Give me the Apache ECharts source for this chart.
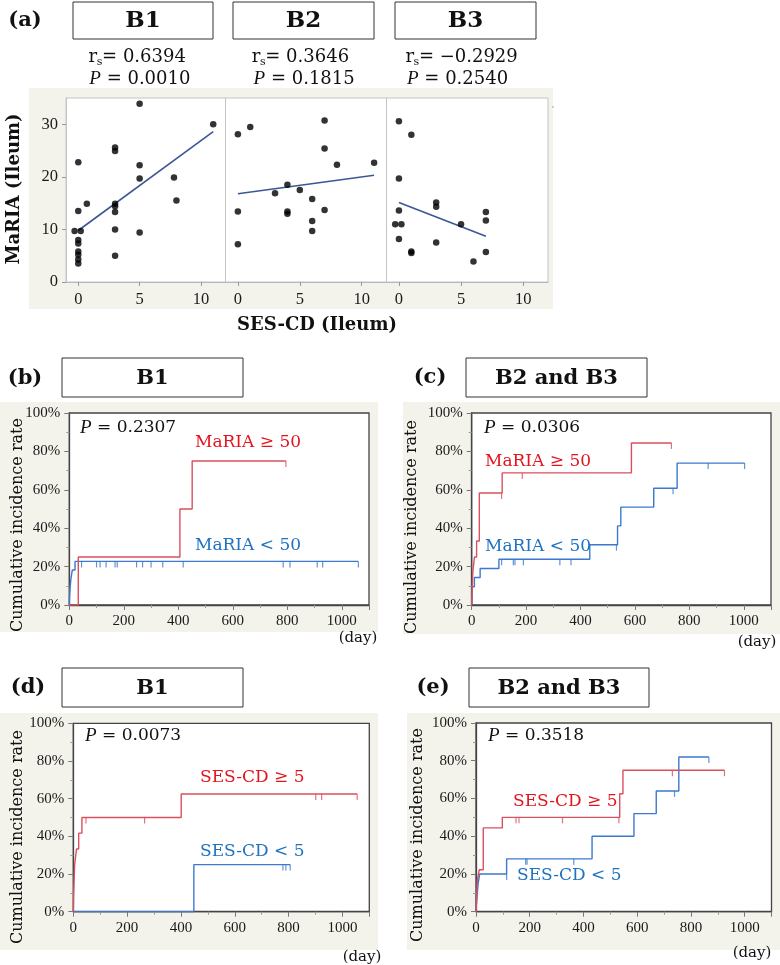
<!DOCTYPE html>
<html><head><meta charset="utf-8">
<script src="https://cdn.jsdelivr.net/npm/echarts@6/dist/echarts.min.js"></script>
<style>html,body{margin:0;padding:0;background:#fff}#c{width:780px;height:965px}</style>
</head><body><div id="c"></div>
<script>
// ---------- DATA ----------
// (a) scatter: [SES-CD (Ileum), MaRIA (Ileum)]
const sesTicks = [0, 5, 10];
const mariaTicks = [0, 10, 20, 30];
const b1Points = [[5,33.9],[11,30.0],[0,22.8],[3,25.6],[3,24.9],[5,22.2],[5,19.7],[7.8,19.9],[8,15.5],[0.7,14.9],[0,13.5],[3,14.9],[3,14.4],[3,13.3],[3,10.0],[3,5.0],[5,9.4],[-0.3,9.7],[0.2,9.7],[0,8.0],[0,7.3],[0,5.8],[0,5.2],[0,4.3],[0,3.5]];
const b2Points = [[0,28.1],[1,29.5],[7,30.7],[7,25.4],[8,22.3],[11,22.7],[4,18.5],[3,16.9],[5,17.5],[6,15.8],[0,13.4],[4,13.4],[4,13.0],[7,13.7],[6,11.6],[6,9.7],[0,7.2]];
const b3Points = [[0,30.6],[1,28.0],[0,19.7],[3,15.1],[3,14.3],[0,13.6],[-0.3,11.0],[0.2,11.0],[0,8.2],[3,7.5],[1,5.8],[1,5.5],[5,11.0],[7,13.3],[7,11.7],[7,5.7],[6,3.9]];
const b1Fit = [[0,9.8],[11,28.6]];
const b2Fit = [[0,16.8],[11,20.3]];
const b3Fit = [[0,15.1],[7,8.7]];
const panelHeaders = ['B1','B2','B3'];
const rsValues = ['= 0.6394','= 0.3646','= \u22120.2929'];
const pScatter = ['0.0010','0.1815','0.2540'];

// (b)-(e) cumulative incidence: [day, %]
const redB = [[0,0],[33,25],[406,50],[451,75],[795,75]];
const blueB = [[0,0],[1,4.5],[3,9.1],[6,13.6],[11,18.2],[21,22.7],[1061,22.7]];
const censorRedB = [[795,75]];
const censorBlueB = [[45,22.7],[100,22.7],[113,22.7],[135,22.7],[168,22.7],[176,22.7],[247,22.7],[269,22.7],[300,22.7],[343,22.7],[418,22.7],[785,22.7],[810,22.7],[910,22.7],[930,22.7],[1061,22.7]];

const redC = [[0,0],[2,8.3],[4,16.7],[10,25],[18,33.3],[28,58.3],[112,68.8],[587,84.4],[734,84.4]];
const blueC = [[0,0],[1,4.8],[2,9.5],[10,14.3],[31,19.0],[100,23.8],[434,31.4],[536,41.2],[548,51.0],[669,60.8],[755,73.9],[1003,73.9]];
const censorRedC = [[110,58.3],[186,68.8],[734,84.4]];
const censorBlueC = [[110,23.8],[153,23.8],[159,23.8],[190,23.8],[324,23.8],[365,23.8],[532,31.4],[740,60.8],[869,73.9],[1003,73.9]];

const redD = [[0,0],[1,8.3],[3,16.7],[5,25],[12,33.3],[20,41.7],[32,50],[401,62.5],[1055,62.5]];
const blueD = [[0,0],[448,25],[806,25]];
const censorRedD = [[47,50],[265,50],[901,62.5],[923,62.5],[1055,62.5]];
const censorBlueD = [[779,25],[790,25],[806,25]];

const redE = [[0,0],[2,5.6],[3,11.1],[5,16.7],[12,22.2],[27,44.4],[98,50],[535,62.5],[547,75],[925,75]];
const blueE = [[0,0],[2,5],[5,10],[8,15],[14,20],[114,28],[432,40],[588,52],[671,64],[755,82],[867,82]];
const censorRedE = [[149,50],[160,50],[322,50],[532,50],[731,75],[925,75]];
const censorBlueE = [[114,20],[185,28],[190,28],[364,28],[739,64],[867,82]];

const pKM = ['0.2307','0.0306','0.0073','0.3518'];

// ---------- CHART ----------
const chart = echarts.init(document.getElementById('c'));
const SERIF = '"DejaVu Serif", serif';
const NUM = '"Liberation Serif", serif';
const BEIGE = '#f3f3ec';
const RED_LINE = '#d9505f', RED_TXT = '#e3141e', BLUE_LINE = '#3c78cf', BLUE_TXT = '#1f72c0';

const grids = [
  {left:66, top:98, width:159.5, height:184},
  {left:225.5, top:98, width:161, height:184},
  {left:386.5, top:98, width:161.5, height:184},
  {left:69.3, top:413, width:299.7, height:192},
  {left:471.7, top:413, width:299.3, height:192},
  {left:73.3, top:723.3, width:296, height:188.4},
  {left:476, top:723, width:295.5, height:188.7}
].map((g,i)=>Object.assign(g,{show:true, backgroundColor:'#fff',
   borderColor: i<3 ? '#c4c4c4' : '#444', borderWidth: i<3 ? 1 : 1.3}));

function scatterX(i){
  return {type:'value', gridIndex:i, min:-1, max:12,
    axisLine:{show:true,onZero:false,lineStyle:{color:'#b8b8b8'}},
    axisTick:{show:true,length:4,customValues:sesTicks,lineStyle:{color:'#999'}},
    axisLabel:{customValues:sesTicks,fontFamily:NUM,fontSize:16.5,color:'#1a1a1a',margin:9},
    splitLine:{show:false}};
}
function scatterY(i, show){
  return {type:'value', gridIndex:i, min:0, max:35,
    axisLine:{show:true,onZero:false,lineStyle:{color:'#c4c4c4'}},
    axisTick:{show:show,length:4,customValues:mariaTicks,lineStyle:{color:'#999'}},
    axisLabel:{show:show,customValues:mariaTicks,fontFamily:NUM,fontSize:16.5,color:'#1a1a1a',margin:8},
    splitLine:{show:false}};
}
function kmX(i){
  return {type:'value', gridIndex:i, min:0, max:1100, interval:200,
    axisLine:{show:true,onZero:false,lineStyle:{color:'#444',width:1.3}},
    axisTick:{show:true,length:5,lineStyle:{color:'#777'}},
    minorTick:{show:true,splitNumber:2,length:3,lineStyle:{color:'#999'}},
    axisLabel:{fontFamily:NUM,fontSize:15,color:'#1a1a1a',margin:9,showMaxLabel:false,formatter:v=>String(v)},
    splitLine:{show:false}, minorSplitLine:{show:false}};
}
function kmY(i){
  return {type:'value', gridIndex:i, min:0, max:100, interval:20,
    axisLine:{show:true,onZero:false,lineStyle:{color:'#444',width:1.3}},
    axisTick:{show:true,length:5,lineStyle:{color:'#777'}},
    minorTick:{show:true,splitNumber:2,length:3,lineStyle:{color:'#999'}},
    axisLabel:{fontFamily:NUM,fontSize:15,color:'#1a1a1a',margin:9,formatter:'{value}%'},
    splitLine:{show:false}, minorSplitLine:{show:false}};
}

const xAxes = [scatterX(0),scatterX(1),scatterX(2),kmX(3),kmX(4),kmX(5),kmX(6)];
const yAxes = [scatterY(0,true),scatterY(1,false),scatterY(2,false),kmY(3),kmY(4),kmY(5),kmY(6)];

const series = [];
[[b1Points,b1Fit],[b2Points,b2Fit],[b3Points,b3Fit]].forEach(([pts,fit],i)=>{
  series.push({type:'scatter',xAxisIndex:i,yAxisIndex:i,data:pts,symbolSize:6.5,itemStyle:{color:'#000'},z:3});
  series.push({type:'line',xAxisIndex:i,yAxisIndex:i,data:fit,symbol:'none',lineStyle:{color:'#3b5796',width:1.6},z:2});
});
[[redB,blueB,censorRedB,censorBlueB],[redC,blueC,censorRedC,censorBlueC],[redD,blueD,censorRedD,censorBlueD],[redE,blueE,censorRedE,censorBlueE]].forEach(([r,b,cr,cb],k)=>{
  const i = k+3;
  series.push({type:'line',step:'end',xAxisIndex:i,yAxisIndex:i,data:b,symbol:'none',lineStyle:{color:BLUE_LINE,width:1.4},z:2});
  series.push({type:'line',step:'end',xAxisIndex:i,yAxisIndex:i,data:r,symbol:'none',lineStyle:{color:RED_LINE,width:1.4},z:3});
  series.push({type:'scatter',xAxisIndex:i,yAxisIndex:i,data:cb,symbol:'rect',symbolSize:[1.2,6],symbolOffset:[0,3],itemStyle:{color:BLUE_LINE},z:2});
  series.push({type:'scatter',xAxisIndex:i,yAxisIndex:i,data:cr,symbol:'rect',symbolSize:[1.2,6],symbolOffset:[0,3],itemStyle:{color:RED_LINE},z:3});
});

// ---------- GRAPHIC (backgrounds, boxes, texts) ----------
const G = [];
function bg(x,y,w,h){ G.push({type:'rect',z:-5,silent:true,shape:{x,y,width:w,height:h},style:{fill:BEIGE}}); }
function box(x,y,w,h,label,fs){
  G.push({type:'rect',z:5,shape:{x,y,width:w,height:h},style:{fill:'#fff',stroke:'#333',lineWidth:1}});
  G.push({type:'text',z:6,x:x+w/2,y:y+h/2+1,style:{text:label,font:`bold ${fs}px ${SERIF}`,fill:'#111',align:'center',verticalAlign:'middle'}});
}
function txt(x,y,text,opts){
  G.push({type:'text',z:6,x,y,rotation:opts.rot||0,style:Object.assign({text,fill:'#111',align:'center',verticalAlign:'middle'},opts.style)});
}
bg(29,88,524,221);
bg(0,402,378,230);
bg(403,402,377,232);
bg(0,713,378,237);
bg(407,713,373,237);

// panel letters
[['(a)',25,21],['(b)',25,379],['(c)',430,378],['(d)',28,688],['(e)',433,688]].forEach(([t,x,y])=>
  txt(x,y,t,{style:{font:`bold 21px ${SERIF}`}}));

// headers
box(73,2,140,37,panelHeaders[0],23);
box(233,2,141,37,panelHeaders[1],23);
box(395,2,141,37,panelHeaders[2],23);
box(62,358,181,39,'B1',21);
box(466,358,181,39,'B2 and B3',21);
box(62,668,181,39,'B1',21);
box(469,668,180,39,'B2 and B3',21);

// correlation statistics
const rsX = [88.6,251.8,405.4];
const pX = [89.3,253.6,407];
rsX.forEach((x,i)=>{
  txt(x,57,'r',{style:{font:`18px ${SERIF}`,align:'left'}});
  txt(x+8.2,62,'s',{style:{font:`11px ${SERIF}`,align:'left'}});
  txt(x+13.5,57,rsValues[i],{style:{font:`18px ${SERIF}`,align:'left'}});
  G.push({type:'text',z:6,x:pX[i],y:79,style:{text:'{i|P}{n| = '+pScatter[i]+'}',align:'left',verticalAlign:'middle',fill:'#111',
    rich:{i:{fontFamily:'"Liberation Serif", serif',fontStyle:'italic',fontSize:19,fill:'#111'},n:{fontFamily:SERIF,fontSize:18,fill:'#111'}}}});
});
G.push({type:'circle',z:6,shape:{cx:553,cy:107,r:0.8},style:{fill:'#999'}});

// axis titles
txt(14,189,'MaRIA (Ileum)',{rot:Math.PI/2,style:{font:`bold 18px ${SERIF}`}});
txt(317,325,'SES-CD (Ileum)',{style:{font:`bold 18px ${SERIF}`}});
[[18,525],[412,527],[18,837],[418,835]].forEach(([x,y])=>
  txt(x,y,'Cumulative incidence rate',{rot:Math.PI/2,style:{font:`16px ${SERIF}`}}));
[[358,638],[757,642],[362,957],[752,953]].forEach(([x,y])=>
  txt(x,y,'(day)',{style:{font:`15px ${SERIF}`}}));

// KM annotations
[[80,428],[484,428],[85,736],[488,736]].forEach(([x,y],k)=>{
  G.push({type:'text',z:6,x,y,style:{text:'{i|P}{n| = '+pKM[k]+'}',align:'left',verticalAlign:'middle',fill:'#111',
    rich:{i:{fontFamily:'"Liberation Serif", serif',fontStyle:'italic',fontSize:19,fill:'#111'},n:{fontFamily:SERIF,fontSize:17,fill:'#111'}}}});
});
const kmLabels = [
  ['MaRIA \u2265 50',195,443,RED_TXT],['MaRIA < 50',195,546,BLUE_TXT],
  ['MaRIA \u2265 50',485,462,RED_TXT],['MaRIA < 50',485,547,BLUE_TXT],
  ['SES-CD \u2265 5',200,778,RED_TXT],['SES-CD < 5',200,852,BLUE_TXT],
  ['SES-CD \u2265 5',513,802,RED_TXT],['SES-CD < 5',517,876,BLUE_TXT]
];
kmLabels.forEach(([t,x,y,c])=>txt(x,y,t,{style:{font:`17px ${SERIF}`,fill:c,align:'left'}}));

chart.setOption({
  animation:false,
  grid:grids,
  xAxis:xAxes,
  yAxis:yAxes,
  series:series,
  graphic:{elements:G}
});
</script></body></html>
